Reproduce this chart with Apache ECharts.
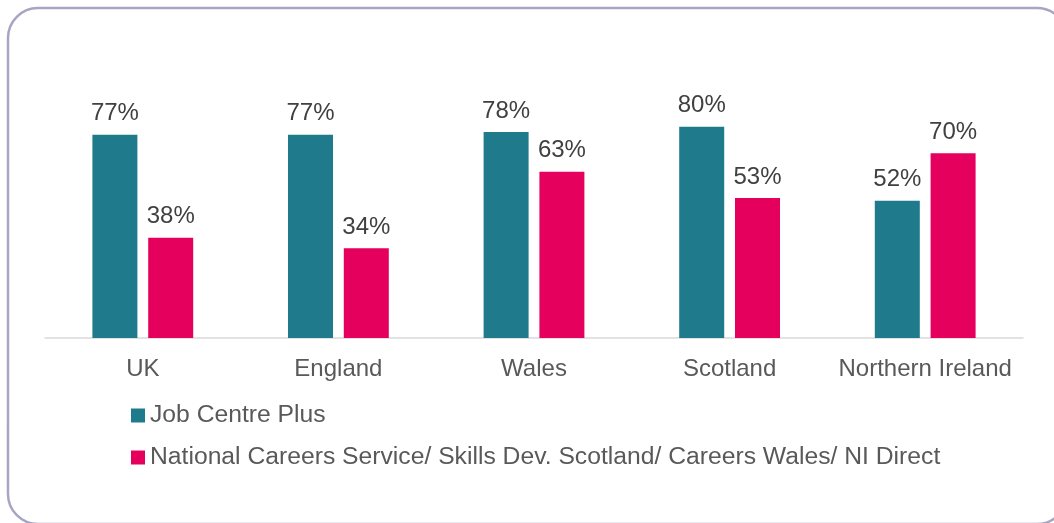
<!DOCTYPE html>
<html>
<head>
<meta charset="utf-8">
<style>
  html, body { margin: 0; padding: 0; background: #ffffff; }
  #chart { width: 1054px; height: 523px; }
</style>
<script src="https://cdn.jsdelivr.net/npm/echarts@6/dist/echarts.min.js"></script>
</head>
<body>
<div id="chart"></div>
<script>
// Share of respondents aware of each service, by nation
const categories = ['UK', 'England', 'Wales', 'Scotland', 'Northern Ireland'];
const seriesNames = [
  'Job Centre Plus',
  'National Careers Service/ Skills Dev. Scotland/ Careers Wales/ NI Direct'
];
const jobCentrePlus = [77, 77, 78, 80, 52];
const careersServices = [38, 34, 63, 53, 70];

const colors = ['#1F7A8C', '#E6005E'];
const font = 'Liberation Sans, Arial, sans-serif';

const chart = echarts.init(document.getElementById('chart'), null, { renderer: 'canvas' });

const labelStyle = {
  show: true,
  position: 'top',
  distance: 9,
  formatter: p => p.value + '%',
  color: '#404040',
  fontSize: 24,
  fontFamily: font
};

chart.setOption({
  animation: false,
  backgroundColor: '#ffffff',
  graphic: [{
    type: 'rect',
    shape: { x: 8, y: 8, width: 1059, height: 516, r: 30 },
    style: { fill: 'none', stroke: '#A8A5C3', lineWidth: 2.5 },
    z: -1
  }],
  legend: {
    orient: 'vertical',
    left: 131,
    top: 403,
    padding: 0,
    itemWidth: 14,
    itemHeight: 14,
    itemGap: 17,
    icon: 'rect',
    textStyle: { color: '#595959', fontSize: 24.7, lineHeight: 24, fontFamily: font },
    data: seriesNames
  },
  grid: { left: 45, right: 31, top: 74, bottom: 185, containLabel: false },
  xAxis: {
    type: 'category',
    data: categories,
    axisLine: { show: true, lineStyle: { color: '#D9D9D9', width: 1.5 } },
    axisTick: { show: false },
    axisLabel: { color: '#595959', fontSize: 24, fontFamily: font, margin: 19, interval: 0 }
  },
  yAxis: {
    type: 'value',
    min: 0,
    max: 100,
    show: false,
    splitLine: { show: false }
  },
  series: [
    {
      name: seriesNames[0],
      type: 'bar',
      data: jobCentrePlus,
      barWidth: 45,
      barGap: '24%',
      itemStyle: { color: colors[0] },
      label: labelStyle
    },
    {
      name: seriesNames[1],
      type: 'bar',
      data: careersServices,
      barWidth: 45,
      barGap: '24%',
      itemStyle: { color: colors[1] },
      label: labelStyle
    }
  ]
});
</script>
</body>
</html>
